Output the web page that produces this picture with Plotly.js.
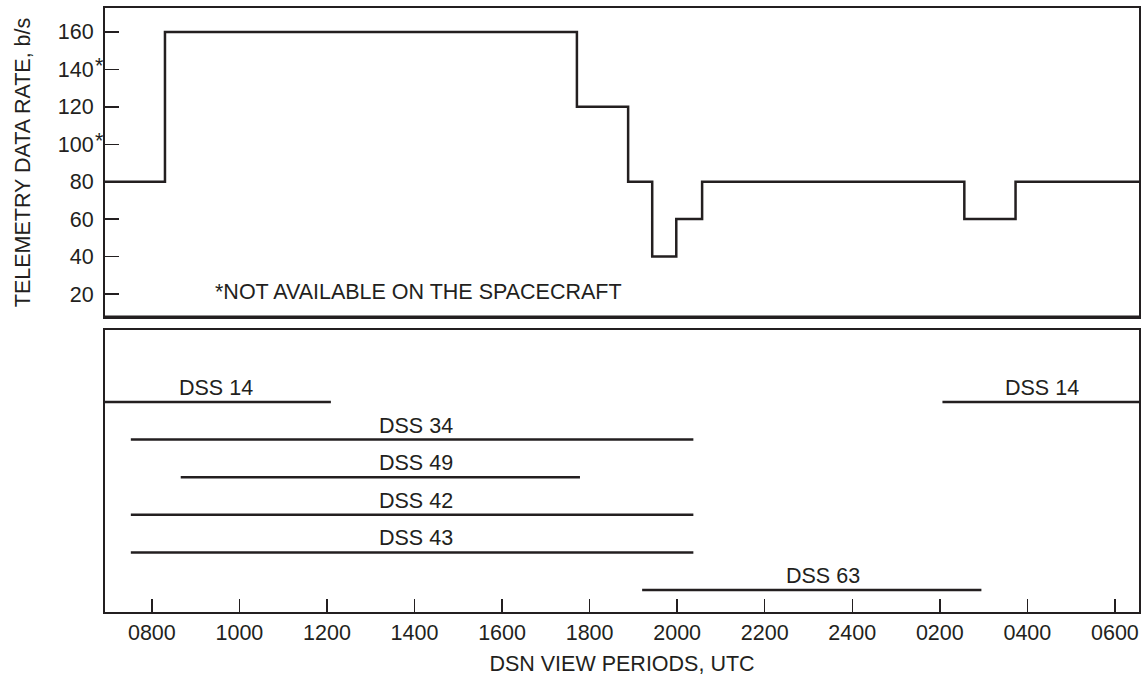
<!DOCTYPE html>
<html>
<head>
<meta charset="utf-8">
<script src="https://cdn.plot.ly/plotly-3.0.1.min.js"></script>
<style>html,body{margin:0;padding:0;background:#fff;}#chart{width:1146px;height:684px;}</style>
</head>
<body>
<div id="chart"></div>
<script>
// Telemetry data rate steps (hours UTC, continuing past 24 for next day)
const rateTimes = [6.9, 8.30, 17.71, 18.88, 19.43, 19.98, 20.57, 26.56, 27.73, 30.6];
const rateValues = [80, 160, 120, 80, 40, 60, 80, 60, 80, 80];

// DSN view periods
const stations = ["DSS 14", "DSS 34", "DSS 49", "DSS 42", "DSS 43", "DSS 63", "DSS 14"];
const viewStart = [6.9, 7.52, 8.66, 7.52, 7.52, 19.20, 26.06];
const viewEnd = [12.09, 20.37, 17.78, 20.37, 20.37, 26.95, 30.6];
const lanes = [5, 4, 3, 2, 1, 0, 5];
const labelAt = [9.46, 14.03, 14.03, 14.03, 14.03, 23.34, 28.34];

// Axis ticks
const xTickVals = [8, 10, 12, 14, 16, 18, 20, 22, 24, 26, 28, 30];
const xTickText = ["0800", "1000", "1200", "1400", "1600", "1800", "2000", "2200", "2400", "0200", "0400", "0600"];
const yTickVals = [20, 40, 60, 80, 100, 120, 140, 160];
const yTickText = ["20", "40", "60", "80", "100", "120", "140", "160"];
const starredTicks = [100, 140];

const ink = '#231f20';
const FONT = 'Liberation Sans, Arial, Helvetica, sans-serif';
const FS = 21.5;

const traces = [];
traces.push({
  x: rateTimes, y: rateValues, xaxis: 'x2', yaxis: 'y2',
  type: 'scatter', mode: 'lines', line: {shape: 'hv', color: ink, width: 2.5},
  hoverinfo: 'skip', showlegend: false
});
for (let i = 0; i < stations.length; i++) {
  traces.push({
    x: [viewStart[i], viewEnd[i]], y: [lanes[i], lanes[i]], xaxis: 'x', yaxis: 'y',
    type: 'scatter', mode: 'lines', line: {color: ink, width: 2.5},
    hoverinfo: 'skip', showlegend: false
  });
}

const annotations = [];
for (let i = 0; i < stations.length; i++) {
  annotations.push({
    x: labelAt[i], y: lanes[i], xref: 'x', yref: 'y',
    text: stations[i], showarrow: false, xanchor: 'center', yanchor: 'bottom', yshift: 0,
    font: {family: FONT, size: FS, color: ink}
  });
}
annotations.push({
  x: 9.40, y: 21.1, xref: 'x2', yref: 'y2', text: '*NOT AVAILABLE ON THE SPACECRAFT',
  showarrow: false, xanchor: 'left', yanchor: 'middle', font: {family: FONT, size: FS, color: ink}
});
starredTicks.forEach(v => {
  annotations.push({
    x: 0, xref: 'paper', y: v, yref: 'y2', text: '*', showarrow: false,
    xanchor: 'left', yanchor: 'middle', xshift: -12, yshift: 3,
    font: {family: FONT, size: FS, color: ink}
  });
});

const axisCommon = {
  showline: true, mirror: true, linecolor: ink, linewidth: 2,
  showgrid: false, zeroline: false, fixedrange: true
};

const layout = {
  width: 1146, height: 684,
  margin: {l: 105, r: 7, t: 8, b: 72},
  paper_bgcolor: '#fff', plot_bgcolor: '#fff',
  font: {family: FONT, size: FS, color: ink},
  showlegend: false,
  xaxis: Object.assign({}, axisCommon, {
    domain: [0, 1], anchor: 'y', range: [6.93, 30.55],
    tickmode: 'array', tickvals: xTickVals, ticktext: xTickText,
    ticks: 'inside', ticklen: 13, tickwidth: 1.5, tickcolor: ink,
    tickfont: {family: FONT, size: FS, color: ink},
    title: {text: 'DSN VIEW PERIODS, UTC', font: {family: FONT, size: FS, color: ink}, standoff: 12}
  }),
  yaxis: Object.assign({}, axisCommon, {
    domain: [0, 0.4669], anchor: 'x', range: [-0.585, 6.915],
    showticklabels: false, ticks: ''
  }),
  xaxis2: Object.assign({}, axisCommon, {
    domain: [0, 1], anchor: 'y2', matches: 'x', range: [6.93, 30.55],
    showticklabels: false, ticks: ''
  }),
  yaxis2: Object.assign({}, axisCommon, {
    domain: [0.4884, 1], anchor: 'x2', range: [7.7, 172.8],
    tickmode: 'array', tickvals: yTickVals, ticktext: yTickText,
    ticks: 'inside', ticklen: 14, tickwidth: 1.5, tickcolor: ink,
    ticklabelstandoff: 5,
    tickfont: {family: FONT, size: FS, color: ink},
    title: {text: 'TELEMETRY DATA RATE, b/s', font: {family: FONT, size: FS, color: ink}, standoff: 21}
  }),
  shapes: [{
    type: 'line', xref: 'paper', yref: 'paper', x0: 0, x1: 1, y0: 0.4884, y1: 0.4884,
    line: {color: ink, width: 2.8}
  }],
  annotations: annotations
};

Plotly.newPlot('chart', traces, layout, {displayModeBar: false, staticPlot: true});
</script>
</body>
</html>
